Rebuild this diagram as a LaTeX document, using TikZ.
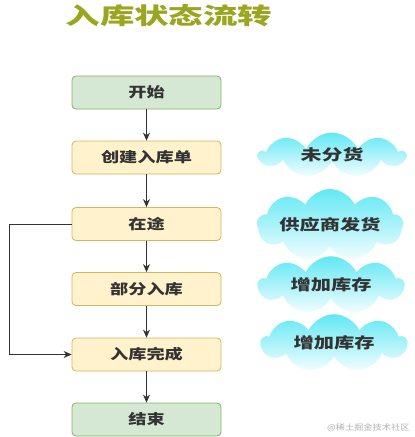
\documentclass[tikz,border=0pt]{standalone}
\usepackage{fontspec}
\usepackage{graphicx}
\setmainfont{Noto Sans CJK SC}
\usetikzlibrary{shapes.symbols,arrows.meta}
\definecolor{greenfill}{HTML}{D5E8D4}
\definecolor{greenline}{HTML}{82B366}
\definecolor{yelfill}{HTML}{FFF2CC}
\definecolor{yelline}{HTML}{D6B656}
\definecolor{titlecol}{HTML}{9AA520}
\definecolor{cloudtop}{HTML}{62E8F4}
\definecolor{cloudbot}{HTML}{F2FDFF}
\definecolor{txtcol}{HTML}{333333}
\tikzset{
  box/.style={draw, rounded corners=4pt, line width=0.8pt, minimum width=149pt, minimum height=33pt, inner sep=0pt,
    font=\fontsize{14}{14}\selectfont\bfseries, text=txtcol},
  gbox/.style={box, fill=greenfill, draw=greenline},
  ybox/.style={box, fill=yelfill, draw=yelline},
  cloudnode/.style={cloud, cloud puffs=9, cloud puff arc=130, aspect=3.3, inner sep=0pt,
    minimum width=146pt, minimum height=44pt, top color=cloudtop, bottom color=cloudbot, draw=none,
    font=\fontsize{15}{15}\selectfont\bfseries, text=txtcol},
  conn/.style={draw=txtcol, line width=0.8pt, -{Stealth[length=8pt,width=7pt]}},
}
\newcommand{\wide}[1]{\scalebox{1.3}[1]{#1}}
\begin{document}
\begin{tikzpicture}[x=1pt,y=-1pt]
\useasboundingbox (0,0) rectangle (415,437);
\node[text=titlecol, font=\fontsize{23}{23}\selectfont\bfseries] (title) at (169,16) {\scalebox{1.5}[1]{入库状态流转}};
\node[gbox] (start) at (146.5,92.5) {\wide{开始}};
\node[ybox] (create) at (146.5,157.5) {\wide{创建入库单}};
\node[ybox] (transit) at (146.5,224) {\wide{在途}};
\node[ybox] (partial) at (146.5,289) {\wide{部分入库}};
\node[ybox] (done) at (146.5,354.5) {\wide{入库完成}};
\node[gbox] (end) at (146.5,419.5) {\wide{结束}};
\draw[conn] (start) -- (create);
\draw[conn] (create) -- (transit);
\draw[conn] (transit) -- (partial);
\draw[conn] (partial) -- (done);
\draw[conn] (done) -- (end);
\coordinate (lt) at (9,224);
\coordinate (lb) at (9,354.5);
\draw[conn] (transit.west) -- (lt) -- (lb) -- (done.west);
\node[cloudnode] (c1) at (332,155) {\scalebox{1.4}[1]{未分货}};
\node[cloudnode] (c2) at (330,225) {\scalebox{1.35}[1]{供应商发货}};
\node[cloudnode] (c3) at (331,285) {\scalebox{1.35}[1]{增加库存}};
\node[cloudnode] (c4) at (334,343) {\scalebox{1.35}[1]{增加库存}};
\node[text=gray!60, font=\fontsize{8}{8}\selectfont, anchor=east] (wm) at (413,428) {\scalebox{1.15}[1]{@稀土掘金技术社区}};
\end{tikzpicture}
\end{document}
